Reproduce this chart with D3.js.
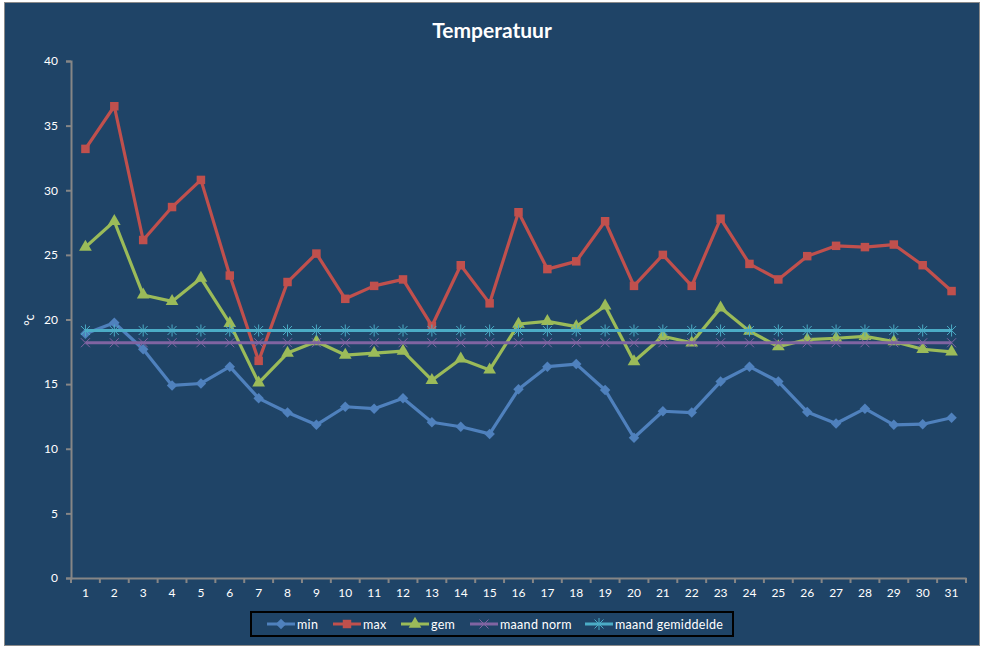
<!DOCTYPE html>
<html>
<head>
<meta charset="utf-8">
<script src="https://cdn.jsdelivr.net/npm/d3@7"></script>
<style>
    body { margin: 0; background: #ffffff; }
    text { font-family: Lato, "Open Sans", sans-serif; fill: #ffffff; }
</style>
</head>
<body>
<div class="container"></div>
<script>
var days = d3.range(1, 32);
var yTicks = [0, 5, 10, 15, 20, 25, 30, 35, 40];

var minTemp = [18.9, 19.75, 17.7, 14.9, 15.05, 16.35, 13.9, 12.8, 11.85, 13.25, 13.1, 13.9, 12.05, 11.7, 11.15, 14.6,
    16.35, 16.55, 14.55, 10.85, 12.9, 12.8, 15.2, 16.35, 15.2, 12.85, 11.95, 13.1, 11.85, 11.9, 12.4];
var maxTemp = [33.2, 36.5, 26.15, 28.7, 30.8, 23.4, 16.8, 22.9, 25.1, 21.6, 22.6, 23.1, 19.5, 24.2, 21.25, 28.3,
    23.9, 24.5, 27.6, 22.6, 25.0, 22.6, 27.8, 24.3, 23.1, 24.9, 25.7, 25.6, 25.8, 24.2, 22.2];
var gemTemp = [25.6, 27.6, 21.9, 21.4, 23.2, 19.7, 15.1, 17.4, 18.3, 17.25, 17.4, 17.55, 15.3, 16.95, 16.1, 19.65,
    19.85, 19.45, 21.05, 16.75, 18.7, 18.2, 20.9, 19.1, 17.9, 18.45, 18.55, 18.7, 18.3, 17.7, 17.5];
var maandNorm = days.map(function () { return 18.2; });
var maandGem = days.map(function () { return 19.15; });

var drawChart = function () {

    var WIDTH = 987;
    var HEIGHT = 648;
    var LEFT = 71, RIGHT = 966, TOP = 61, BOTTOM = 578;

    var series = [
        {name: 'min', values: minTemp, color: '#4F81BD', marker: 'diamond'},
        {name: 'max', values: maxTemp, color: '#C0504D', marker: 'square'},
        {name: 'gem', values: gemTemp, color: '#9BBB59', marker: 'triangle'},
        {name: 'maand norm', values: maandNorm, color: '#8064A2', marker: 'x'},
        {name: 'maand gemiddelde', values: maandGem, color: '#4BACC6', marker: 'star'}
    ];

    var xScale = d3.scaleBand()
        .domain(days)
        .range([LEFT, RIGHT]);

    var yScale = d3.scaleLinear()
        .domain([0, 40])
        .range([BOTTOM, TOP]);

    var svg = d3.select('.container')
        .append('svg')
        .attr('width', WIDTH)
        .attr('height', HEIGHT);

    svg.append('rect')
        .attr('x', 4.5).attr('y', 2.5)
        .attr('width', 975).attr('height', 643)
        .attr('fill', '#1F4467')
        .attr('stroke', '#8a8a8a');

    svg.append('text')
        .attr('x', 492).attr('y', 38)
        .attr('text-anchor', 'middle')
        .style('font-size', '21px')
        .style('font-weight', 'bold')
        .text('Temperatuur');

    // y axis
    var yAxis = d3.axisLeft(yScale).tickValues(yTicks).tickSize(5).tickPadding(8);
    var gy = svg.append('g')
        .attr('transform', 'translate(' + LEFT + ',0)')
        .call(yAxis);
    gy.select('.domain').attr('stroke', '#868686').attr('stroke-width', 2);
    gy.selectAll('.tick line').attr('stroke', '#868686').attr('stroke-width', 2);
    gy.selectAll('.tick text').style('font-size', '12px').attr('fill', '#ffffff');

    // x axis
    var xAxis = d3.axisBottom(xScale).tickSize(0).tickPadding(10);
    var gx = svg.append('g')
        .attr('transform', 'translate(0,' + BOTTOM + ')')
        .call(xAxis);
    gx.select('.domain').attr('stroke', '#868686').attr('stroke-width', 2);
    gx.selectAll('.tick text').style('font-size', '12px').attr('fill', '#ffffff');
    gx.selectAll('.bound')
        .data(days.concat([32]))
        .enter()
        .append('line')
        .attr('x1', function (d) { return d <= 31 ? xScale(d) : RIGHT; })
        .attr('x2', function (d) { return d <= 31 ? xScale(d) : RIGHT; })
        .attr('y1', 0).attr('y2', 5)
        .attr('stroke', '#868686').attr('stroke-width', 2);

    svg.append('text')
        .attr('transform', 'translate(34,320) rotate(-90)')
        .attr('text-anchor', 'middle')
        .style('font-size', '13px')
        .text('°c');

    var cx = function (i) { return xScale(days[i]) + xScale.bandwidth() / 2; };

    var markerPath = function (type) {
        if (type === 'diamond') return d3.symbol(d3.symbolDiamond2, 70)();
        if (type === 'square') return d3.symbol(d3.symbolSquare, 72)();
        if (type === 'triangle') return d3.symbol(d3.symbolTriangle, 70)();
        if (type === 'x') return 'M-4.5,-4.5L4.5,4.5M-4.5,4.5L4.5,-4.5';
        return 'M-4.5,-4.5L4.5,4.5M-4.5,4.5L4.5,-4.5M0,-6L0,6';
    };

    var line = d3.line()
        .x(function (d, i) { return cx(i); })
        .y(function (d) { return yScale(d); });

    series.forEach(function (s) {
        var g = svg.append('g');
        g.append('path')
            .attr('d', line(s.values))
            .attr('fill', 'none')
            .attr('stroke', s.color)
            .attr('stroke-width', 3.2)
            .attr('stroke-linejoin', 'round');
        var filled = s.marker === 'diamond' || s.marker === 'square' || s.marker === 'triangle';
        g.selectAll('.m')
            .data(s.values)
            .enter()
            .append('path')
            .attr('transform', function (d, i) { return 'translate(' + cx(i) + ',' + yScale(d) + ')'; })
            .attr('d', markerPath(s.marker))
            .attr('fill', filled ? s.color : 'none')
            .attr('stroke', s.color)
            .attr('stroke-width', filled ? 0 : 1);
    });

    // legend
    var legend = svg.append('g');
    legend.append('rect')
        .attr('x', 251).attr('y', 612)
        .attr('width', 482).attr('height', 24)
        .attr('fill', 'none')
        .attr('stroke', '#000000')
        .attr('stroke-width', 2);

    var legendX = [267, 333, 401, 470, 585];
    series.forEach(function (s, i) {
        var x0 = legendX[i];
        legend.append('line')
            .attr('x1', x0).attr('x2', x0 + 28)
            .attr('y1', 624).attr('y2', 624)
            .attr('stroke', s.color).attr('stroke-width', 3);
        var filled = s.marker === 'diamond' || s.marker === 'square' || s.marker === 'triangle';
        legend.append('path')
            .attr('transform', 'translate(' + (x0 + 14) + ',624)')
            .attr('d', markerPath(s.marker))
            .attr('fill', filled ? s.color : 'none')
            .attr('stroke', s.color)
            .attr('stroke-width', filled ? 0 : 1);
        legend.append('text')
            .attr('x', x0 + 30).attr('y', 629)
            .style('font-size', '12.5px')
            .style('letter-spacing', '0.3px')
            .text(s.name);
    });
};

window.onload = drawChart;
</script>
</body>
</html>
